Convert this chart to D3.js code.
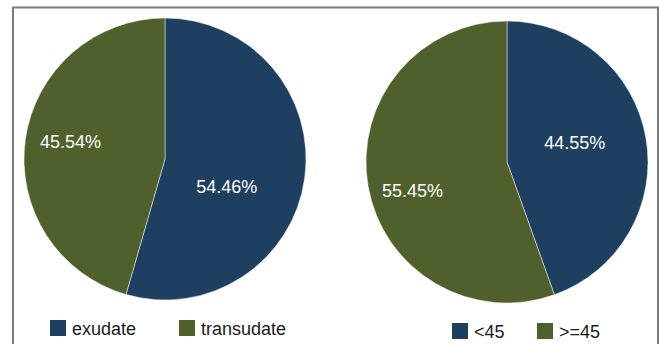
<!DOCTYPE html>
<html>
<head>
<meta charset="utf-8">
<script src="https://cdn.jsdelivr.net/npm/d3@7"></script>
<style>
  html, body { margin: 0; padding: 0; background: #fff; }
  svg { display: block; }
</style>
</head>
<body>
<svg id="chart" width="659" height="344"></svg>
<script>
// Pleural effusion type
const typeCategories = ["exudate", "transudate"];
const typeValues = [54.46, 45.54];

// Age group
const ageCategories = ["<45", ">=45"];
const ageValues = [44.55, 55.45];

const colors = ["#1f3f60", "#50602d"];

const svg = d3.select("#chart");

// frame around the figure
svg.append("path")
  .attr("d", "M13,344 L13,7.5 L658,7.5 L658,344")
  .attr("fill", "none")
  .attr("stroke", "#7a7a7a")
  .attr("stroke-width", 2);

function drawPie(cfg) {
  const { categories, values, cx, cy, r, labelPlace, legendX, legendGap, legendY } = cfg;
  const data = categories.map((c, i) => ({ cat: c, value: values[i], i }));
  const pie = d3.pie().sort(null).value(d => d.value);
  const arc = d3.arc().innerRadius(0).outerRadius(r);
  const arcs = pie(data);

  const g = svg.append("g").attr("transform", `translate(${cx},${cy})`);
  g.selectAll("path.slice")
    .data(arcs)
    .join("path")
    .attr("class", "slice")
    .attr("d", arc)
    .attr("fill", d => colors[d.data.i])
    .attr("stroke", "rgba(255,255,255,0.6)")
    .attr("stroke-width", 0.8);

  // percentage labels inside the slices
  g.selectAll("text.lbl")
    .data(arcs)
    .join("text")
    .attr("class", "lbl")
    .each(function (d) {
      const p = labelPlace[d.data.i];
      const a = (d.startAngle + d.endAngle) / 2 + p.da * Math.PI / 180;
      const rr = r * p.f;
      d3.select(this)
        .attr("x", Math.sin(a) * rr)
        .attr("y", -Math.cos(a) * rr);
    })
    .attr("text-anchor", "middle")
    .attr("dominant-baseline", "central")
    .attr("font-family", "Liberation Sans, Arial, sans-serif")
    .attr("font-size", 18)
    .attr("fill", "#ffffff")
    .text(d => d3.format(".2f")(d.data.value) + "%");

  // legend
  const lg = svg.append("g");
  const items = lg.selectAll("g.item")
    .data(data)
    .join("g")
    .attr("class", "item")
    .attr("transform", d => `translate(${legendX + d.i * legendGap},${legendY})`);
  items.append("rect")
    .attr("x", 0).attr("y", -16)
    .attr("width", 16).attr("height", 16)
    .attr("fill", d => colors[d.i]);
  items.append("text")
    .attr("x", 22).attr("y", -1)
    .attr("font-family", "Liberation Sans, Arial, sans-serif")
    .attr("font-size", 18)
    .attr("fill", "#1a1a1a")
    .text(d => d.cat);
}

drawPie({
  categories: typeCategories, values: typeValues,
  cx: 165, cy: 159, r: 141,
  labelPlace: [{ f: 0.48, da: 16 }, { f: 0.68, da: 2 }],
  legendX: 50, legendGap: 129, legendY: 336
});

drawPie({
  categories: ageCategories, values: ageValues,
  cx: 507, cy: 162, r: 141,
  labelPlace: [{ f: 0.5, da: -6 }, { f: 0.7, da: -7 }],
  legendX: 452, legendGap: 85, legendY: 339
});
</script>
</body>
</html>
